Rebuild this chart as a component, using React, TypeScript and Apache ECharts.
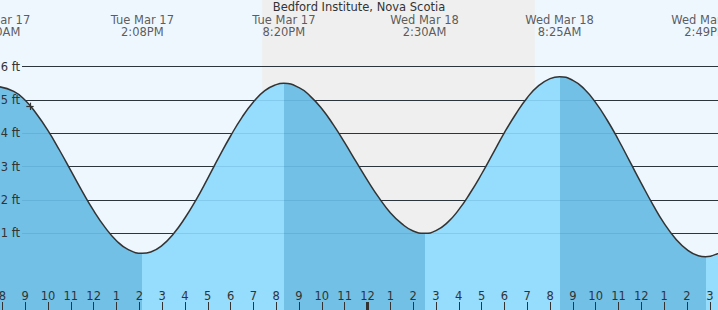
import React, { useEffect, useRef } from 'react';
import * as echarts from 'echarts';

// ---- data (time = hours since 00:00 Tue Mar 17) ----
const TITLE = 'Bedford Institute, Nova Scotia';

const tideTimes = [
  7.833, 8.5, 9, 9.5, 10, 10.5, 11, 11.5, 12, 12.5, 13, 13.5,
  14.133, 14.5, 15, 15.5, 16, 16.5, 17, 17.5, 18, 18.5, 19, 19.5, 20,
  20.333, 21, 21.5, 22, 22.5, 23, 23.5, 24, 24.5, 25, 25.5, 26,
  26.5, 27, 27.5, 28, 28.5, 29, 29.5, 30, 30.5, 31, 31.5, 32,
  32.417, 33, 33.5, 34, 34.5, 35, 35.5, 36, 36.5, 37, 37.5, 38, 38.5,
  38.817, 39.5,
];
const tideHeights = [
  5.4, 5.26, 4.99, 4.58, 4.08, 3.5, 2.88, 2.26, 1.68, 1.18, 0.78, 0.52,
  0.4, 0.44, 0.64, 0.99, 1.46, 2.02, 2.65, 3.3, 3.92, 4.48, 4.94, 5.28, 5.46,
  5.5, 5.37, 5.11, 4.74, 4.26, 3.72, 3.15, 2.59, 2.07, 1.62, 1.29, 1.07,
  1.0, 1.08, 1.32, 1.71, 2.21, 2.78, 3.4, 4.02, 4.58, 5.07, 5.43, 5.64,
  5.7, 5.59, 5.33, 4.92, 4.4, 3.8, 3.15, 2.5, 1.87, 1.3, 0.84, 0.51, 0.33,
  0.3, 0.45,
];

const eventTimes = [7.833, 14.133, 20.333, 26.5, 32.417, 38.817];
const eventKinds = ['high', 'low', 'high', 'low', 'high', 'low'];
const eventLabels = [
  'Tue Mar 17\n7:50AM',
  'Tue Mar 17\n2:08PM',
  'Tue Mar 17\n8:20PM',
  'Wed Mar 18\n2:30AM',
  'Wed Mar 18\n8:25AM',
  'Wed Mar 18\n2:49PM',
];

const sunset = 19.383; // 7:23 PM
const sunrise = 31.333; // 7:20 AM Mar 18
const midnight = 24;

const nowTime = 9.21;
const nowHeight = 4.81;

const yTicks = [1, 2, 3, 4, 5, 6];
const hourTicks = [8, 9, 10, 11, 12, 13, 14, 15, 16, 17, 18, 19, 20, 21, 22, 23, 24, 25, 26, 27, 28, 29, 30, 31, 32, 33, 34, 35, 36, 37, 38, 39];

// ---- layout / style constants ----
const X_MIN = 7.896;
const X_MAX = 39.36;
const Y_MIN = -1.3;
const Y_MAX = 8;
const GRID_LINE_START = 8.86;
const EVENT_LABEL_Y = 7.22;
const TICK_TOP = -1.06;

const FONT = 'DejaVu Sans';
const TEXT = '#333333';
const DAY_BG = '#eef6fe';
const NIGHT_BG = '#efefef';
const RISING = '#96dcfc';
const FALLING = '#72c0e6';

export default function App() {
  const ref = useRef<HTMLDivElement>(null);

  useEffect(() => {
    document.body.style.margin = '0';
    if (!ref.current) return;
    const chart = echarts.init(ref.current, null, { renderer: 'svg' });

    const pieces: any[] = [{ lt: eventTimes[0], color: RISING }];
    eventTimes.forEach((t, i) => {
      const p: any = { gte: t, color: eventKinds[i] === 'high' ? FALLING : RISING };
      if (i + 1 < eventTimes.length) p.lt = eventTimes[i + 1];
      pieces.push(p);
    });

    const option: any = {
      animation: false,
      backgroundColor: DAY_BG,
      title: {
        text: TITLE,
        left: 'center',
        top: 0,
        padding: [1, 0, 0, 0],
        textStyle: { fontSize: 11.5, fontWeight: 'normal', color: TEXT, fontFamily: FONT },
      },
      grid: { left: 0, right: 0, top: 0, bottom: 0, containLabel: false, outerBoundsMode: 'none' },
      xAxis: {
        type: 'value',
        min: X_MIN,
        max: X_MAX,
        z: 15,
        axisLine: { show: false, onZero: false },
        splitLine: { show: false },
        axisTick: {
          show: true,
          inside: true,
          length: 8,
          customValues: hourTicks,
          lineStyle: { color: TEXT, width: 1 },
        },
        axisLabel: {
          show: true,
          inside: true,
          margin: 8,
          customValues: hourTicks,
          color: TEXT,
          fontSize: 11.5,
          fontFamily: FONT,
          formatter: (v: number) => {
            const h = Math.round(v) % 12;
            return String(h === 0 ? 12 : h);
          },
        },
      },
      yAxis: {
        type: 'value',
        min: Y_MIN,
        max: Y_MAX,
        show: false,
        splitLine: { show: false },
      },
      visualMap: {
        type: 'piecewise',
        show: false,
        dimension: 0,
        seriesIndex: 2,
        pieces,
      },
      series: [
        {
          type: 'line',
          data: [],
          silent: true,
          markArea: {
            silent: true,
            itemStyle: { color: NIGHT_BG },
            data: [[{ xAxis: sunset }, { xAxis: sunrise }]],
          },
        },
        {
          type: 'line',
          data: [],
          silent: true,
          markLine: {
            silent: true,
            z: 5,
            symbol: 'none',
            label: { show: false },
            lineStyle: { color: TEXT, width: 1, type: 'solid' },
            data: yTicks.map((v) => [{ coord: [GRID_LINE_START, v] }, { coord: [X_MAX, v] }]),
          },
        },
        {
          type: 'line',
          z: 10,
          silent: true,
          smooth: 0.5,
          showSymbol: false,
          symbol: 'none',
          data: tideTimes.map((t, i) => [t, tideHeights[i]]),
          lineStyle: { color: TEXT, width: 1.5 },
          areaStyle: { opacity: 1, origin: 'start' },
        },
        {
          type: 'line',
          data: [],
          silent: true,
          markLine: {
            silent: true,
            z: 12,
            symbol: 'none',
            lineStyle: { color: 'rgba(0,70,130,0.12)', width: 1, type: 'solid' },
            label: {
              show: true,
              position: 'start',
              formatter: '{b}',
              distance: 2,
              color: TEXT,
              fontSize: 11.5,
              fontFamily: FONT,
            },
            data: [
              ...yTicks.map((v) => [
                { name: `${v} ft`, coord: [GRID_LINE_START, v] },
                { coord: [X_MAX, v] },
              ]),
              [
                {
                  name: '',
                  coord: [midnight, Y_MIN],
                  lineStyle: { color: TEXT, width: 3, type: 'solid' },
                  label: { show: false },
                },
                { coord: [midnight, TICK_TOP] },
              ],
              [
                {
                  name: '',
                  coord: [nowTime - 0.16, nowHeight],
                  lineStyle: { color: TEXT, width: 1.2, type: 'solid' },
                  label: { show: false },
                },
                { coord: [nowTime + 0.16, nowHeight] },
              ],
              [
                {
                  name: '',
                  coord: [nowTime, nowHeight - 0.11],
                  lineStyle: { color: TEXT, width: 1.2, type: 'solid' },
                  label: { show: false },
                },
                { coord: [nowTime, nowHeight + 0.11] },
              ],
            ],
          },
        },
        {
          type: 'scatter',
          z: 20,
          clip: false,
          silent: true,
          symbolSize: 1,
          itemStyle: { color: 'rgba(0,0,0,0)' },
          data: eventTimes.map((t, i) => ({ name: eventLabels[i], value: [t, EVENT_LABEL_Y] })),
          label: {
            show: true,
            position: 'inside',
            formatter: '{b}',
            color: TEXT,
            fontSize: 11.5,
            lineHeight: 12.5,
            fontFamily: FONT,
          },
        },
      ],
    };

    chart.setOption(option);
    return () => chart.dispose();
  }, []);

  return (
    <div
      ref={ref}
      style={{ position: 'absolute', left: 0, top: 0, width: 718, height: 310 }}
    />
  );
}
